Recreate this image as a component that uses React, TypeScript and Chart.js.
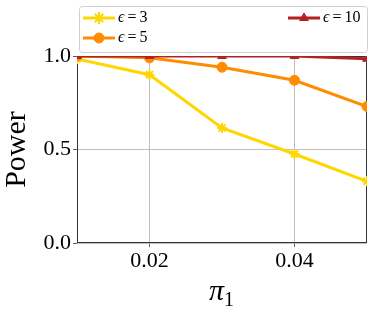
import React, { useEffect, useRef } from "react";
import { Chart, registerables } from "chart.js";
import { drawPoint } from "chart.js/helpers";

Chart.register(...registerables);

const xValues = [0.01, 0.02, 0.03, 0.04, 0.05];
const eps3 = [0.984, 0.9, 0.615, 0.476, 0.33];
const eps5 = [1.0, 0.99, 0.94, 0.87, 0.73];
const eps10 = [1.0, 1.0, 1.0, 1.0, 0.985];
const xTicks = [0.02, 0.04];
const yTicks = [0.0, 0.5, 1.0];
const seriesNames = ["3", "5", "10"];
const colors = ["#FFD700", "#FF8C00", "#B22222"];
const styles: any[] = ["star", "circle", "triangle"];

const SERIF = "'Liberation Serif', 'DejaVu Serif', serif";

const overlay = {
  id: "overlay",
  beforeDatasetsDraw(chart: any) {
    const { ctx, chartArea } = chart;
    const { left, right, top, bottom } = chartArea;
    ctx.save();
    ctx.strokeStyle = "#333";
    ctx.lineWidth = 1;
    ctx.strokeRect(left + 0.5, top + 0.5, right - left - 1, bottom - top - 1);
    ctx.restore();
  },
  afterDraw(chart: any) {
    const { ctx, chartArea } = chart;
    const { left, right, top, bottom } = chartArea;
    ctx.save();
    ctx.fillStyle = "#000";
    ctx.font = `30px ${SERIF}`;
    ctx.textAlign = "center";
    ctx.textBaseline = "middle";
    ctx.save();
    ctx.translate(17, (top + bottom) / 2);
    ctx.rotate(-Math.PI / 2);
    ctx.fillText("Power", 0, 0);
    ctx.restore();
    const cx = (left + right) / 2;
    ctx.font = `italic 30px ${SERIF}`;
    ctx.textAlign = "right";
    ctx.textBaseline = "alphabetic";
    ctx.fillText("π", cx + 2, 300);
    ctx.font = `20px ${SERIF}`;
    ctx.textAlign = "left";
    ctx.fillText("1", cx + 2, 306);

    // legend
    const lx = 79.5, ly = 6.5, lw = 288, lh = 46;
    ctx.beginPath();
    ctx.roundRect(lx, ly, lw, lh, 3);
    ctx.fillStyle = "rgba(255,255,255,0.85)";
    ctx.fill();
    ctx.strokeStyle = "#d0d0d0";
    ctx.lineWidth = 1;
    ctx.stroke();
    const pos = [
      { x: 83, y: 18 },
      { x: 83, y: 38 },
      { x: 288, y: 18 },
    ];
    chart.data.datasets.forEach((ds: any, i: number) => {
      const p = pos[i];
      ctx.strokeStyle = ds.borderColor;
      ctx.lineWidth = 3;
      ctx.beginPath();
      ctx.moveTo(p.x, p.y);
      ctx.lineTo(p.x + 32, p.y);
      ctx.stroke();
      ctx.fillStyle = ds.borderColor;
      ctx.strokeStyle = ds.borderColor;
      ctx.lineWidth = i === 0 ? 2 : 1;
      drawPoint(ctx, { pointStyle: ds.pointStyle, radius: i === 0 ? 6 : 5, borderWidth: ctx.lineWidth, rotation: 0 } as any, p.x + 16, p.y);
      ctx.fillStyle = "#000";
      ctx.textBaseline = "middle";
      ctx.textAlign = "left";
      let tx = p.x + 35;
      ctx.font = `italic 16px ${SERIF}`;
      ctx.fillText("ϵ", tx, p.y);
      tx += ctx.measureText("ϵ").width + 3;
      ctx.font = `16px ${SERIF}`;
      ctx.fillText("=", tx, p.y);
      tx += ctx.measureText("=").width + 3;
      ctx.fillText(seriesNames[i], tx, p.y);
    });
    ctx.restore();
  },
};

export default function App() {
  const ref = useRef<HTMLCanvasElement>(null);
  useEffect(() => {
    document.body.style.margin = "0";
    const data = [eps3, eps5, eps10];
    const chart = new Chart(ref.current!, {
      type: "line",
      data: {
        datasets: data.map((arr, i) => ({
          label: "ϵ=" + seriesNames[i],
          data: xValues.map((x, j) => ({ x, y: arr[j] })),
          borderColor: colors[i],
          backgroundColor: colors[i],
          pointBackgroundColor: colors[i],
          pointBorderColor: colors[i],
          borderWidth: 3,
          pointStyle: styles[i],
          pointRadius: 5,
          pointBorderWidth: i === 0 ? 2 : 1,
          tension: 0,
          clip: 0,
          order: 2 - i,
        })),
      },
      options: {
        animation: false,
        responsive: false,
        devicePixelRatio: 1,
        layout: { padding: { top: 56, right: 6, left: 0, bottom: 0 } },
        plugins: { legend: { display: false }, tooltip: { enabled: false } },
        scales: {
          x: {
            type: "linear",
            min: 0.01,
            max: 0.05,
            afterBuildTicks: (axis: any) => {
              axis.ticks = xTicks.map((v) => ({ value: v }));
            },
            afterFit: (s: any) => {
              s.height = 71;
            },
            grid: { color: "#b0b0b0", lineWidth: 0.8, tickLength: 4, tickColor: "#333" },
            border: { display: false },
            ticks: {
              maxRotation: 0,
              autoSkip: false,
              padding: 1,
              color: "#000",
              font: { family: SERIF, size: 22 },
              callback: (v: any) => Number(v).toFixed(2),
            },
          },
          y: {
            type: "linear",
            min: 0,
            max: 1,
            afterBuildTicks: (axis: any) => {
              axis.ticks = yTicks.map((v) => ({ value: v }));
            },
            afterFit: (s: any) => {
              s.width = 77;
            },
            grid: { color: "#b0b0b0", lineWidth: 0.8, tickLength: 4, tickColor: "#333" },
            border: { display: false },
            ticks: {
              padding: 2,
              color: "#000",
              font: { family: SERIF, size: 22 },
              callback: (v: any) => Number(v).toFixed(1),
            },
          },
        },
      },
      plugins: [overlay],
    });
    return () => chart.destroy();
  }, []);
  return (
    <div style={{ position: "fixed", left: 0, top: 0, width: 374, height: 314 }}>
      <canvas ref={ref} width={374} height={314} style={{ width: 374, height: 314 }} />
    </div>
  );
}
